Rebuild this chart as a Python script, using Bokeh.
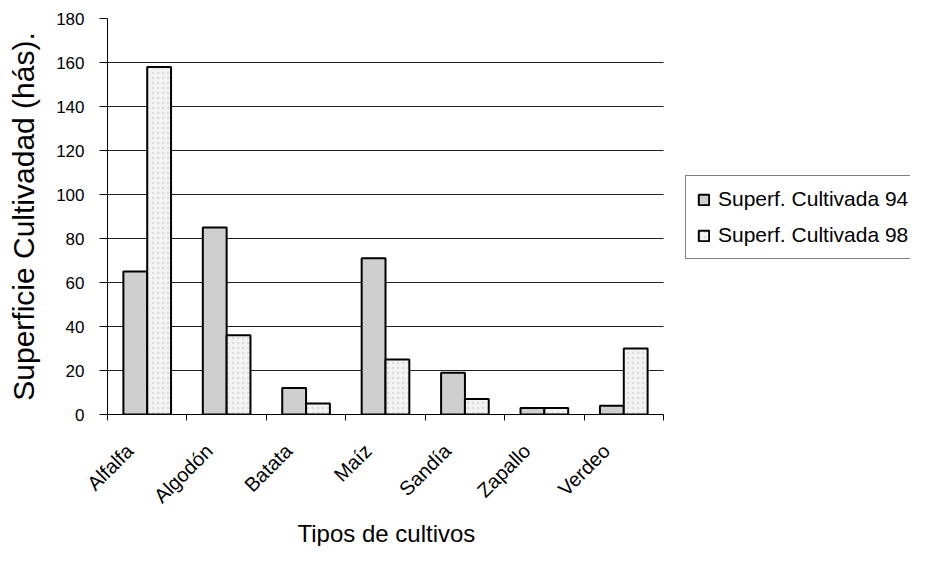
import numpy as np
from bokeh.plotting import figure
from bokeh.models import ColumnDataSource, FixedTicker, Range1d, Legend, LegendItem, Title
from bokeh.embed import file_html
from bokeh.resources import INLINE

cultivos = ["Alfalfa", "Algodón", "Batata", "Maíz", "Sandía", "Zapallo", "Verdeo"]
sup_94 = [65, 85, 12, 71, 19, 3, 4]
sup_98 = [158, 36, 5, 25, 7, 3, 30]
y_ticks = [0, 20, 40, 60, 80, 100, 120, 140, 160, 180]
series_names = ["Superf. Cultivada 94", "Superf. Cultivada 98"]

FONT = "Liberation Sans"

# layout: chart area 556 px wide, extra room on the right (inside the frame) for the legend
CHART_W, EXTRA_W, FRAME_H = 556, 247, 397
n = len(cultivos)
x_max = n * (CHART_W + EXTRA_W) / CHART_W

centers = np.arange(n) + 0.5
bounds = np.arange(n + 1).astype(float)
label_pos = centers - 0.22

src = ColumnDataSource(dict(
    x94=centers - 0.15, x98=centers + 0.15, s94=sup_94, s98=sup_98, name=cultivos,
))

p = figure(width=910, height=546,
           x_range=Range1d(0, x_max), y_range=Range1d(y_ticks[0], y_ticks[-1]),
           output_backend="svg", toolbar_location=None,
           min_border_left=107, min_border_right=0, min_border_top=18, min_border_bottom=131)
p.outline_line_color = None
p.background_fill_color = "white"
p.border_fill_color = "white"

# horizontal grid lines, only across the chart area
p.xgrid.grid_line_color = None
if "cross_bounds" in p.ygrid.properties():
    p.ygrid.ticker = FixedTicker(ticks=y_ticks)
    p.ygrid.cross_bounds = (0, n)
    p.ygrid.grid_line_color = "#222222"
    p.ygrid.grid_line_width = 1
else:
    p.ygrid.grid_line_color = None
    gsrc = ColumnDataSource(dict(y=y_ticks[1:], x0=[0] * (len(y_ticks) - 1),
                                 x1=[n] * (len(y_ticks) - 1)))
    p.segment(x0="x0", x1="x1", y0="y", y1="y", source=gsrc,
              line_color="#222222", line_width=1)

r94 = p.vbar(x="x94", top="s94", bottom=0, width=0.3, source=src,
             fill_color="#cfcfcf", line_color="black", line_width=2)
r98 = p.vbar(x="x98", top="s98", bottom=0, width=0.3, source=src,
             fill_color="#f3f3f3", line_color="black", line_width=2,
             hatch_pattern="dot", hatch_color="#dcdcdc", hatch_scale=5, hatch_weight=1.2)

# y axis
ya = p.yaxis[0]
ya.ticker = FixedTicker(ticks=y_ticks)
ya.axis_label = "Superficie Cultivadad (hás)."
ya.axis_label_text_font = FONT
ya.axis_label_text_font_size = "30px"
ya.axis_label_text_font_style = "normal"
ya.axis_label_text_color = "black"
ya.axis_label_standoff = 13
ya.major_label_text_font = FONT
ya.major_label_text_font_size = "17px"
ya.major_label_text_color = "black"
ya.major_label_standoff = 15
ya.major_tick_in = 0
ya.major_tick_out = 8
ya.major_tick_line_color = "black"
ya.minor_tick_line_color = None
ya.axis_line_color = "black"

# x axis
xa = p.xaxis[0]
xa.bounds = (0, n)
xa.ticker = FixedTicker(ticks=list(label_pos), minor_ticks=list(bounds))
xa.major_label_overrides = {float(c): t for c, t in zip(label_pos, cultivos)}
xa.major_label_orientation = np.pi / 4
xa.major_label_text_font = FONT
xa.major_label_text_font_size = "20px"
xa.major_label_text_color = "black"
xa.major_label_standoff = 27
xa.major_tick_line_color = None
xa.major_tick_in = 0
xa.major_tick_out = 6
xa.minor_tick_in = 0
xa.minor_tick_out = 6
xa.minor_tick_line_color = "black"
xa.axis_line_color = "black"

# x axis title, centred under the chart area
xt = Title(text="Tipos de cultivos", align="left", offset=190, standoff=0)
xt.text_font = FONT
xt.text_font_size = "24px"
xt.text_font_style = "normal"
xt.text_color = "black"
p.add_layout(xt, "below")

legend = Legend(items=[LegendItem(label=series_names[0], renderers=[r94]),
                       LegendItem(label=series_names[1], renderers=[r98])],
                location=(CHART_W + 22, 155))
legend.label_text_font = FONT
legend.label_text_font_size = "21px"
legend.label_text_color = "black"
legend.glyph_width = 13
legend.glyph_height = 13
legend.label_standoff = 8
legend.padding = 11
legend.spacing = 12
legend.margin = 0
legend.border_line_color = "black"
legend.border_line_width = 1
legend.background_fill_color = "white"
legend.background_fill_alpha = 1
p.add_layout(legend, "center")

open("out.html", "w").write(file_html(p, INLINE))
